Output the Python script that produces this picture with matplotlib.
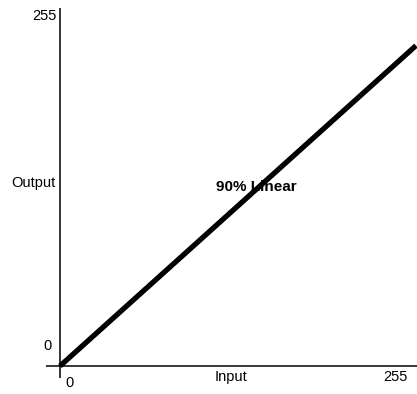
import matplotlib
matplotlib.use("Agg")
import matplotlib.pyplot as plt

# Daten
x_werte = [0, 255]
y_werte = [0, 0.9 * 255]
x_ticks = ["0", "255"]
y_ticks = ["0", "255"]
judul_kurva = "90% Linear"

W, H = 417, 394
fig = plt.figure(figsize=(W / 100, H / 100), dpi=100)

# axes mapped so that data (0,0) sits at pixel (60,366) and 255 spans 356 px
px = 356 / 255
ax = fig.add_axes([0, 0, 1, 1])
ax.set_xlim(-60 / px, (W - 60) / px)
ax.set_ylim(-(H - 366) / px, 366 / px)
ax.axis("off")

# sumbu
ax.plot([-14 / px, (W - 60) / px], [0, 0], color="black", lw=1.1, solid_capstyle="butt")
ax.plot([0, 0], [-12 / px, 358 / px], color="black", lw=1.1, solid_capstyle="butt")

# kurva
ax.plot(x_werte, y_werte, color="black", lw=3.8, solid_capstyle="butt")

fnt = dict(family="Liberation Sans", fontsize=10.5)
ax.text(-3 / px, (366 - 16) / px, y_ticks[1], ha="right", va="center", **fnt)
ax.text(-8 / px, 20 / px, y_ticks[0], ha="right", va="center", **fnt)
ax.text(-5 / px, 183 / px, "Output", ha="right", va="center", **fnt)
ax.text(10 / px, -17 / px, x_ticks[0], ha="center", va="center", **fnt)
ax.text(171 / px, -11 / px, "Input", ha="center", va="center", **fnt)
ax.text(335 / px, -11 / px, x_ticks[1], ha="center", va="center", **fnt)
ax.text(196 / px, 179 / px, judul_kurva, ha="center", va="center",
        family="Liberation Sans", fontsize=11, fontweight="bold", zorder=5)

fig.savefig("out.png", dpi=100)
